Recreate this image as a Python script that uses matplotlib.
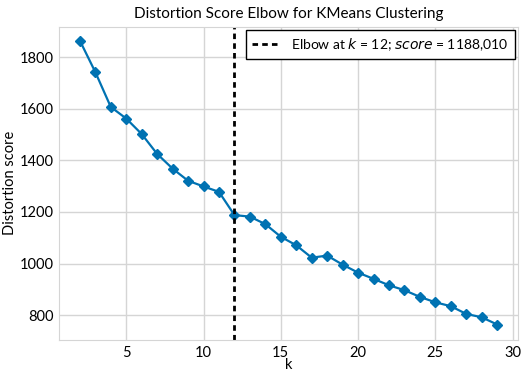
import matplotlib
matplotlib.use("Agg")
import matplotlib.pyplot as plt

k_values = list(range(2, 30))
scores = [1864, 1742, 1607, 1562, 1502, 1425, 1368, 1321, 1299, 1278,
          1188.01, 1182, 1153, 1104, 1071, 1023, 1031, 996, 965, 941,
          916, 897, 871, 850, 835, 805, 792, 764]
elbow_k = 12
elbow_score = 1188.010

plt.rcParams['font.family'] = ['Lato', 'DejaVu Sans']

fig = plt.figure(figsize=(5.24, 3.84), dpi=100)
ax = fig.add_axes([0.1126, 0.1146, 0.876, 0.8159])

ax.plot(k_values, scores, marker='D', color='#0072B2', lw=1.6, markersize=5.5)
ax.axvline(elbow_k, color='black', ls=(0, (2, 1.5)), lw=2,
           label=f"Elbow at $k$ = {elbow_k}; $score$ = {elbow_score:.3f}".replace('.', ','))

ax.set_xlim(0.65, 30.35)
ax.set_ylim(704, 1918)
ax.set_xticks([5, 10, 15, 20, 25, 30])
ax.set_yticks([800, 1000, 1200, 1400, 1600, 1800])
ax.grid(True, color='#d5d5d5', lw=1)
ax.set_axisbelow(True)
for s in ax.spines.values():
    s.set_color('#d5d5d5')
ax.tick_params(length=0, labelsize=10.5, pad=4)

ax.set_title("Distortion Score Elbow for KMeans Clustering", fontsize=11, pad=6)
ax.set_xlabel("k", fontsize=10.5, labelpad=-1)
ax.set_ylabel("Distortion score", fontsize=10.5, labelpad=2)

leg = ax.legend(loc='upper right', fontsize=10, fancybox=False, framealpha=1,
                edgecolor='black', borderaxespad=0.25, handlelength=2,
                borderpad=0.45)
leg.get_frame().set_linewidth(1)

fig.savefig("out.png", dpi=100)
